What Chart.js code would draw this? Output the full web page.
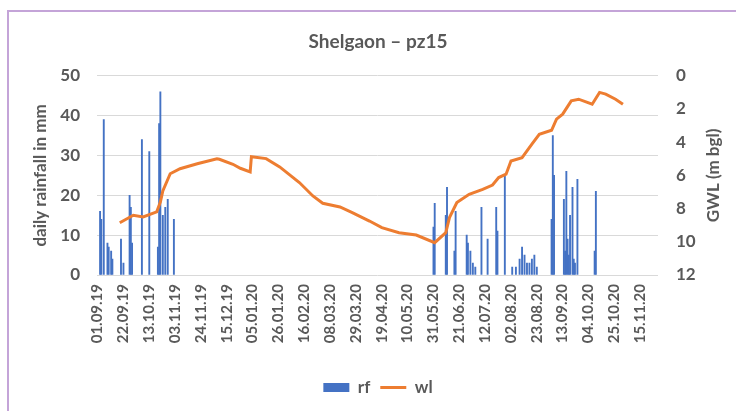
<!DOCTYPE html>
<html>
<head>
<meta charset="utf-8">
<script src="https://cdn.jsdelivr.net/npm/chart.js@4.4.1/dist/chart.umd.min.js"></script>
<style>
  html, body { margin: 0; padding: 0; background: #fff; }
  #holder { position: relative; width: 736px; height: 411px; overflow: hidden; background: #fff; }
  #frame { position: absolute; left: 7px; top: 10px; width: 800px; height: 500px;
           border-left: 2px solid #c4a4d8; border-top: 2px solid #c4a4d8; pointer-events: none; }
</style>
</head>
<body>
<div id="holder">
  <canvas id="chart" width="736" height="411"></canvas>
  <div id="frame"></div>
</div>
<script>
// axis range and tick spacing (days)
const startDate = "01.09.19";
const endDate = "29.11.20";
const tickEvery = 21;

// daily rainfall (mm)
const rfDates = [
  "03.09.19", "04.09.19", "06.09.19", "09.09.19", "10.09.19", "12.09.19", "13.09.19",
  "20.09.19", "22.09.19", "27.09.19", "28.09.19", "29.09.19", "07.10.19", "13.10.19",
  "20.10.19", "21.10.19", "22.10.19", "24.10.19", "26.10.19", "28.10.19", "02.11.19",
  "31.05.20", "01.06.20", "10.06.20", "11.06.20", "17.06.20", "18.06.20", "27.06.20",
  "28.06.20", "30.06.20", "02.07.20", "04.07.20", "09.07.20", "14.07.20", "21.07.20",
  "22.07.20", "28.07.20", "03.08.20", "06.08.20", "09.08.20", "11.08.20", "13.08.20",
  "15.08.20", "17.08.20", "19.08.20", "21.08.20", "23.08.20", "04.09.20", "05.09.20",
  "06.09.20", "14.09.20", "15.09.20", "16.09.20", "17.09.20", "18.09.20", "19.09.20",
  "21.09.20", "22.09.20", "23.09.20", "25.09.20", "09.10.20", "10.10.20"
];
const rfValues = [
  16, 14, 39, 8, 7, 6, 4,
  9, 3, 20, 17, 8, 34, 31,
  7, 38, 46, 15, 17, 19, 14,
  12, 18, 15, 22, 6, 16, 10,
  8, 6, 3, 2, 17, 9, 17,
  11, 25, 2, 2, 4, 7, 5,
  3, 3, 4, 5, 2, 14, 35,
  25, 19, 6, 26, 9, 5, 15,
  22, 4, 3, 24, 6, 21
];

// groundwater level (m bgl)
const wlDates = [
  "19.09.19", "30.09.19", "08.10.19", "19.10.19", "22.10.19", "24.10.19", "30.10.19",
  "07.11.19", "21.11.19", "07.12.19", "09.12.19", "20.12.19", "26.12.19", "03.01.20",
  "04.01.20", "16.01.20", "27.01.20", "12.02.20", "23.02.20", "02.03.20", "16.03.20",
  "26.03.20", "09.04.20", "19.04.20", "03.05.20", "17.05.20", "01.06.20", "10.06.20",
  "13.06.20", "19.06.20", "29.06.20", "10.07.20", "18.07.20", "23.07.20", "29.07.20",
  "02.08.20", "11.08.20", "19.08.20", "25.08.20", "04.09.20", "08.09.20", "13.09.20",
  "20.09.20", "26.09.20", "07.10.20", "13.10.20", "18.10.20", "26.10.20", "01.11.20"
];
const wlValues = [
  8.85, 8.4, 8.5, 8.2, 7.6, 6.94, 5.9,
  5.6, 5.3, 5.0, 5.03, 5.33, 5.57, 5.79,
  4.87, 4.99, 5.49, 6.43, 7.24, 7.68, 7.9,
  8.24, 8.75, 9.15, 9.45, 9.59, 10.05, 9.45,
  8.54, 7.64, 7.14, 6.84, 6.58, 6.13, 5.93,
  5.13, 4.93, 4.12, 3.52, 3.28, 2.61, 2.31,
  1.51, 1.41, 1.71, 1.0, 1.1, 1.41, 1.71
];

const textColor = "#595959";
const fontFamily = "Lato, 'Liberation Sans', sans-serif";

function dayIndex(s) {
  const [d, m, y] = s.split(".").map(Number);
  const [d0, m0, y0] = startDate.split(".").map(Number);
  return Math.round((Date.UTC(2000 + y, m - 1, d) - Date.UTC(2000 + y0, m0 - 1, d0)) / 86400000);
}

function dayLabel(i) {
  const [d0, m0, y0] = startDate.split(".").map(Number);
  const dt = new Date(Date.UTC(2000 + y0, m0 - 1, d0 + i));
  const pad = n => String(n).padStart(2, "0");
  return pad(dt.getUTCDate()) + "." + pad(dt.getUTCMonth() + 1) + "." + pad(dt.getUTCFullYear() % 100);
}

const nDays = dayIndex(endDate) + 1;
const labels = [];
for (let i = 0; i < nDays; i++) labels.push(dayLabel(i));

const rfData = new Array(nDays).fill(null);
rfDates.forEach((d, k) => { rfData[dayIndex(d)] = rfValues[k]; });

const wlData = new Array(nDays).fill(null);
wlDates.forEach((d, k) => { wlData[dayIndex(d)] = wlValues[k]; });

// right axis title reads bottom-to-top like the left one
const gwlTitle = {
  id: "gwlTitle",
  afterDraw(chart) {
    const { ctx, chartArea } = chart;
    ctx.save();
    ctx.translate(chart.scales.y1.right - 22, (chartArea.top + chartArea.bottom) / 2);
    ctx.rotate(-Math.PI / 2);
    ctx.textAlign = "center";
    ctx.textBaseline = "middle";
    ctx.font = "bold 17px " + fontFamily;
    ctx.fillStyle = textColor;
    ctx.fillText("GWL (m bgl)", 0, 0);
    ctx.restore();
  }
};

new Chart(document.getElementById("chart"), {
  type: "bar",
  data: {
    labels: labels,
    datasets: [
      {
        type: "bar",
        label: "rf",
        data: rfData,
        backgroundColor: "#4472C4",
        barPercentage: 1,
        categoryPercentage: 1,
        yAxisID: "y",
        pointStyle: "rect",
        order: 2
      },
      {
        type: "line",
        label: "wl",
        data: wlData,
        borderColor: "#ED7D31",
        backgroundColor: "#ED7D31",
        borderWidth: 3,
        pointRadius: 0,
        spanGaps: true,
        tension: 0,
        yAxisID: "y1",
        pointStyle: "line",
        order: 1
      }
    ]
  },
  options: {
    responsive: false,
    animation: false,
    layout: { padding: { left: 20, right: 0, top: 0, bottom: 5 } },
    plugins: {
      title: {
        display: true,
        text: "Shelgaon – pz15",
        color: textColor,
        font: { family: fontFamily, size: 19, weight: "bold" },
        padding: { top: 30, bottom: 23 }
      },
      legend: {
        position: "bottom",
        labels: {
          usePointStyle: true,
          pointStyleWidth: 26,
          boxHeight: 9,
          padding: 10,
          color: textColor,
          font: { family: fontFamily, size: 17, weight: "bold" },
          sort: (a, b) => a.datasetIndex - b.datasetIndex
        }
      },
      tooltip: { enabled: false }
    },
    scales: {
      x: {
        grid: { display: false, drawTicks: false },
        border: { display: false },
        ticks: {
          autoSkip: false,
          minRotation: 90,
          maxRotation: 90,
          padding: 9,
          color: textColor,
          font: { family: fontFamily, size: 15, weight: "bold" },
          callback(value, index) {
            return index % tickEvery === 0 ? this.getLabelForValue(value) : "";
          }
        },
        afterFit(scale) { scale.height = 94; }
      },
      y: {
        position: "left",
        min: 0,
        max: 50,
        grid: { color: "#d9d9d9", drawTicks: false },
        border: { display: false },
        ticks: {
          stepSize: 10,
          padding: 17,
          color: textColor,
          font: { family: fontFamily, size: 17, weight: "bold" }
        },
        title: {
          display: true,
          text: "daily rainfall in mm",
          color: textColor,
          font: { family: fontFamily, size: 17, weight: "bold" },
          padding: { top: 10, bottom: 0 }
        },
        afterFit(scale) { scale.width = 77; }
      },
      y1: {
        position: "right",
        reverse: true,
        min: 0,
        max: 12,
        grid: { display: false, drawTicks: false },
        border: { display: false },
        ticks: {
          stepSize: 2,
          padding: 18,
          color: textColor,
          font: { family: fontFamily, size: 17, weight: "bold" }
        },
        afterFit(scale) { scale.width = 78; }
      }
    }
  },
  plugins: [gwlTitle]
});
</script>
</body>
</html>
